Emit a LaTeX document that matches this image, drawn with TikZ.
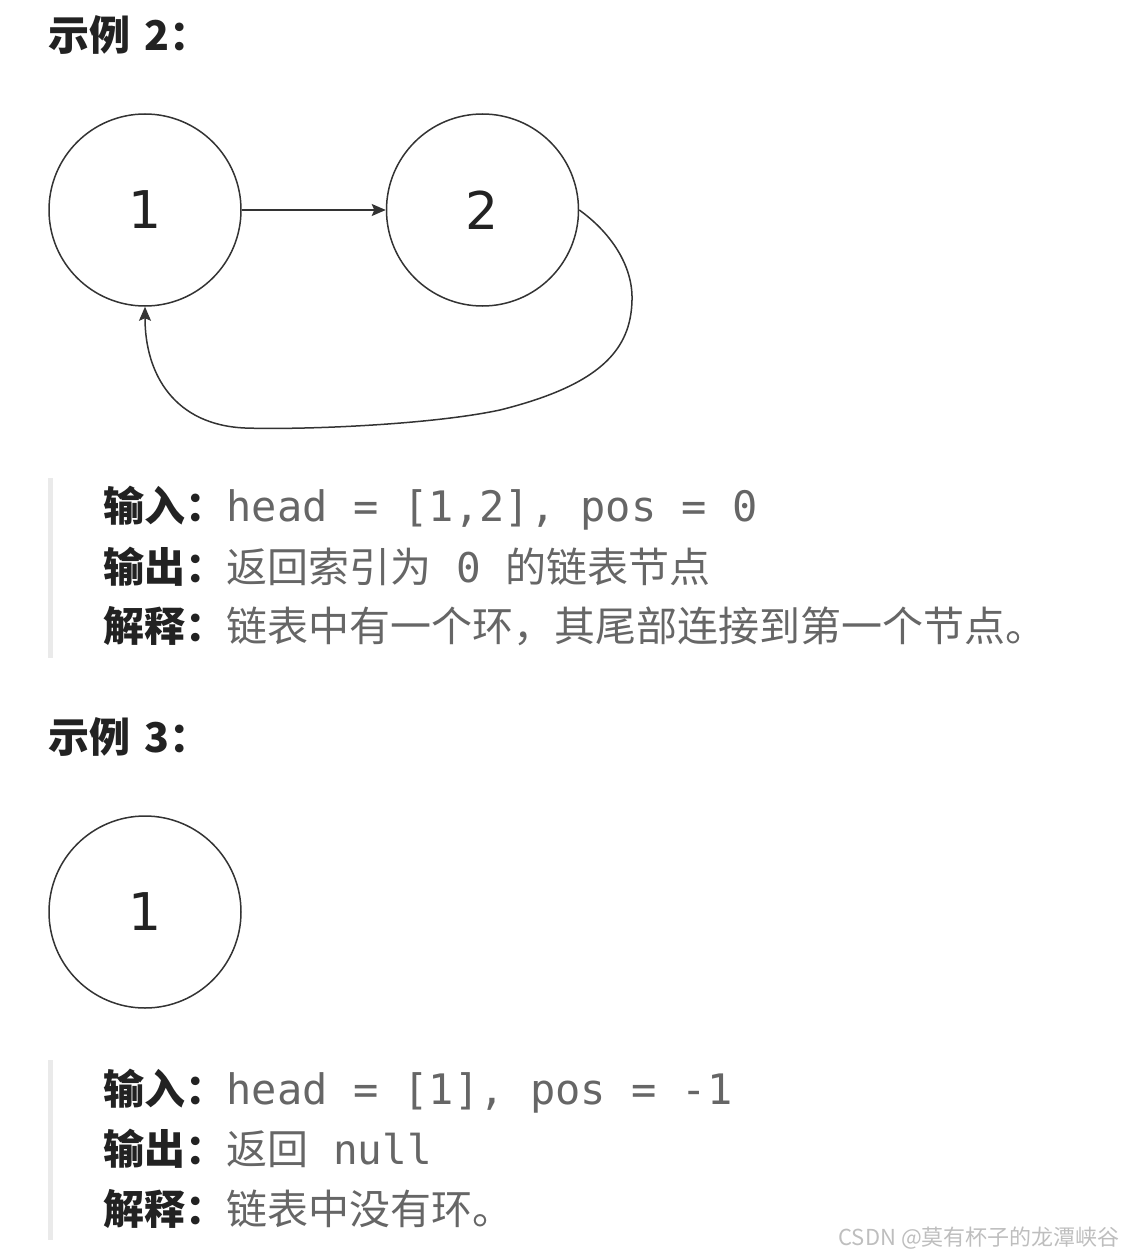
\documentclass[tikz,border=0pt]{standalone}
\usepackage{fontspec}
\usepackage{xcolor}
\usepackage{tikz}
\usetikzlibrary{arrows.meta,positioning}
\newfontfamily\cjk{Noto Sans CJK SC}
\newfontfamily\codefont{DejaVu Sans Mono}
\newfontfamily\numfont{DejaVu Sans}
\definecolor{LineGray}{RGB}{51,51,51}
\definecolor{TextGray}{RGB}{102,102,102}
\definecolor{LabelDark}{RGB}{34,34,34}
\definecolor{BarGray}{RGB}{234,234,234}
\definecolor{MarkGray}{RGB}{190,190,190}

\begin{document}
\begin{tikzpicture}[x=1pt,y=-1pt,
node distance=144pt,
listnode/.style={circle,draw=LineGray,line width=1.5pt,minimum size=192pt,inner sep=0pt,font=\numfont\fontsize{52}{60}\selectfont,text=LabelDark},
heading/.style={anchor=base west,inner sep=0pt,font=\cjk\bfseries\fontsize{41}{48}\selectfont,text=LabelDark},
lab/.style={anchor=base west,inner sep=0pt,font=\cjk\bfseries\fontsize{41}{48}\selectfont,text=LabelDark},
val/.style={anchor=base west,inner sep=0pt,font=\cjk\fontsize{41}{48}\selectfont,text=TextGray},
code/.style={anchor=base west,inner sep=0pt,font=\codefont\fontsize{42}{48}\selectfont,text=TextGray},
arr/.style={-{Stealth[length=14pt,width=12pt,inset=2.5pt]},line width=1.5pt,draw=LineGray}]
\useasboundingbox (0,0) rectangle (1125,1257);
\node[heading] (h2) at (48,51) {示例\hspace{14pt}2：};
\node[listnode] (n1) at (145,210) {1};
\node[listnode,right=of n1] (n2) {2};
\draw[arr] (n1) -- (n2);
\draw[arr] (n2.east) .. controls (610,232) and (633,265) .. (632,300)
  .. controls (631,350) and (600,385) .. (500,410)
  .. controls (430,425) and (300,430) .. (245,428)
  .. controls (175,425) and (145,375) .. (n1.south);
\fill[BarGray] (48,478) rectangle (53,658);
\node[lab] (in2) at (103,521) {输入：};
\node[code] (in2v) at (in2.base east) {head = [1,2], pos = 0};
\node[lab] (out2) at (103,582) {输出：};
\node[val] (out2v) at (out2.base east) {返回索引为{\codefont\ 0\ }的链表节点};
\node[lab] (ex2) at (103,641) {解释：};
\node[val] (ex2v) at (ex2.base east) {链表中有一个环，其尾部连接到第一个节点。};
\node[heading] (h3) at (48,752) {示例\hspace{14pt}3：};
\node[listnode] (n3) at (145,912) {1};
\fill[BarGray] (48,1060) rectangle (53,1240);
\node[lab] (in3) at (103,1104) {输入：};
\node[code] (in3v) at (in3.base east) {head = [1], pos = -1};
\node[lab] (out3) at (103,1164) {输出：};
\node[val] (out3v) at (out3.base east) {返回{\codefont\ null}};
\node[lab] (ex3) at (103,1224) {解释：};
\node[val] (ex3v) at (ex3.base east) {链表中没有环。};
\node[anchor=base east,inner sep=0pt,font=\cjk\fontsize{22}{26}\selectfont,text=MarkGray] (mark) at (1120,1245) {CSDN @莫有杯子的龙潭峡谷};
\end{tikzpicture}
\end{document}
